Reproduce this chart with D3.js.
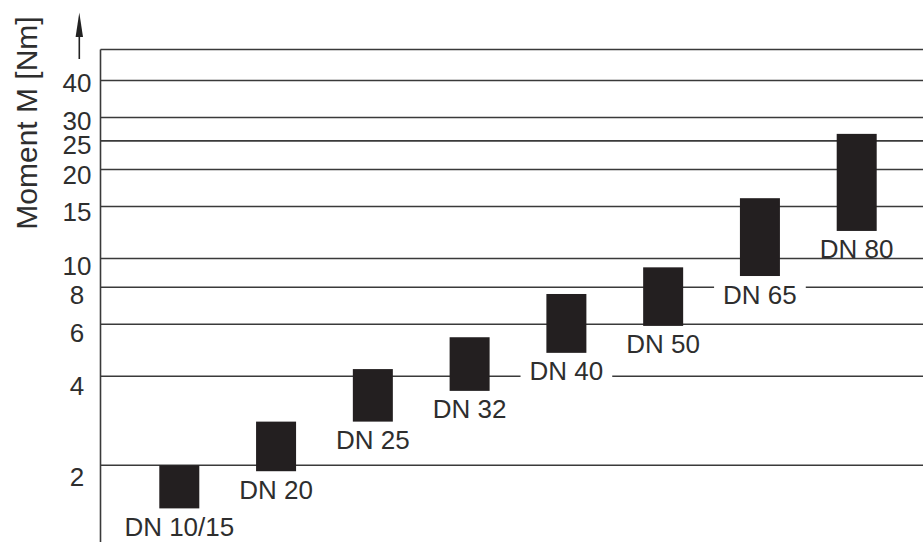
<!DOCTYPE html>
<html>
<head>
<meta charset="utf-8">
<script src="https://cdn.jsdelivr.net/npm/d3@7/dist/d3.min.js"></script>
<style>
  html, body { margin: 0; padding: 0; background: #fff; }
  svg { display: block; }
  text { font-family: "Liberation Sans", Arial, Helvetica, sans-serif; fill: #2e2e2e; }
</style>
</head>
<body>
<svg id="chart" width="923" height="542"></svg>
<script>
// ---- data ----
const categories = ["DN 10/15", "DN 20", "DN 25", "DN 32", "DN 40", "DN 50", "DN 65", "DN 80"];
const momentMin  = [1.43, 1.91, 2.81, 3.57, 4.80, 5.92, 8.73, 12.4];
const momentMax  = [2.00, 2.81, 4.23, 5.42, 7.59, 9.34, 16.0, 26.4];
const yTicks     = [2, 4, 6, 8, 10, 15, 20, 25, 30, 40];
const maskedLabels = ["DN 40", "DN 65"];
const yTitle = "Moment M [Nm]";

// ---- layout ----
const W = 923, H = 542;
const axisX = 100.5, frameTop = 49.5;
const barW = 40;
const labelOffset = 27.5;

const svg = d3.select("#chart");

const y = d3.scaleLog().domain([2, 40]).range([465.3, 80.5]);
const yLabel = d3.scaleLog().domain([2, 40]).range([477, 83]);
const x = d3.scalePoint().domain(categories).range([179.3, 856.7]);

const data = categories.map((c, i) => ({ cat: c, lo: momentMin[i], hi: momentMax[i] }));

const lineColor = "#3a3a3a";

// grid lines
svg.append("g").selectAll("line").data(yTicks).join("line")
  .attr("x1", axisX).attr("x2", W)
  .attr("y1", d => y(d)).attr("y2", d => y(d))
  .attr("stroke", lineColor).attr("stroke-width", 1.6);

// frame top + left axis
svg.append("line").attr("x1", axisX).attr("x2", W).attr("y1", frameTop).attr("y2", frameTop)
  .attr("stroke", lineColor).attr("stroke-width", 1.6);
svg.append("line").attr("x1", axisX).attr("x2", axisX).attr("y1", frameTop).attr("y2", H)
  .attr("stroke", lineColor).attr("stroke-width", 1.6);

// tick labels
svg.append("g").selectAll("text").data(yTicks).join("text")
  .attr("x", 77).attr("y", d => yLabel(d)).attr("dy", "0.36em")
  .attr("text-anchor", "middle")
  .style("font-size", "26px")
  .text(d => d);

// arrow
svg.append("line").attr("x1", 79.3).attr("x2", 79.3).attr("y1", 30).attr("y2", 59)
  .attr("stroke", "#222").attr("stroke-width", 1.6);
svg.append("path").attr("d", "M79.3,12.5 L83,37 L75.6,37 Z").attr("fill", "#222");

// y title
svg.append("text")
  .attr("transform", "translate(37,123) rotate(-90)")
  .attr("text-anchor", "middle")
  .style("font-size", "30px")
  .text(yTitle);

// label masks
const labelFont = 26;
const labels = svg.append("g");
data.forEach(d => {
  const cx = x(d.cat);
  const base = y(d.lo) + labelOffset;
  if (maskedLabels.includes(d.cat)) {
    const t = labels.append("text").attr("x", cx).attr("y", base).attr("text-anchor", "middle")
      .style("font-size", labelFont + "px").text(d.cat);
    const w = t.node().getComputedTextLength();
    t.remove();
    labels.append("rect")
      .attr("x", cx - w / 2 - 9).attr("width", w + 18)
      .attr("y", base - labelFont * 0.72 - 4).attr("height", labelFont * 0.72 + 8)
      .attr("fill", "#fff");
  }
});

// bars
svg.append("g").selectAll("rect").data(data).join("rect")
  .attr("x", d => x(d.cat) - barW / 2).attr("width", barW)
  .attr("y", d => y(d.hi)).attr("height", d => y(d.lo) - y(d.hi))
  .attr("fill", "#231f20");

// category labels
svg.append("g").selectAll("text").data(data).join("text")
  .attr("x", d => x(d.cat)).attr("y", d => y(d.lo) + labelOffset)
  .attr("text-anchor", "middle")
  .style("font-size", labelFont + "px")
  .text(d => d.cat);
</script>
</body>
</html>
